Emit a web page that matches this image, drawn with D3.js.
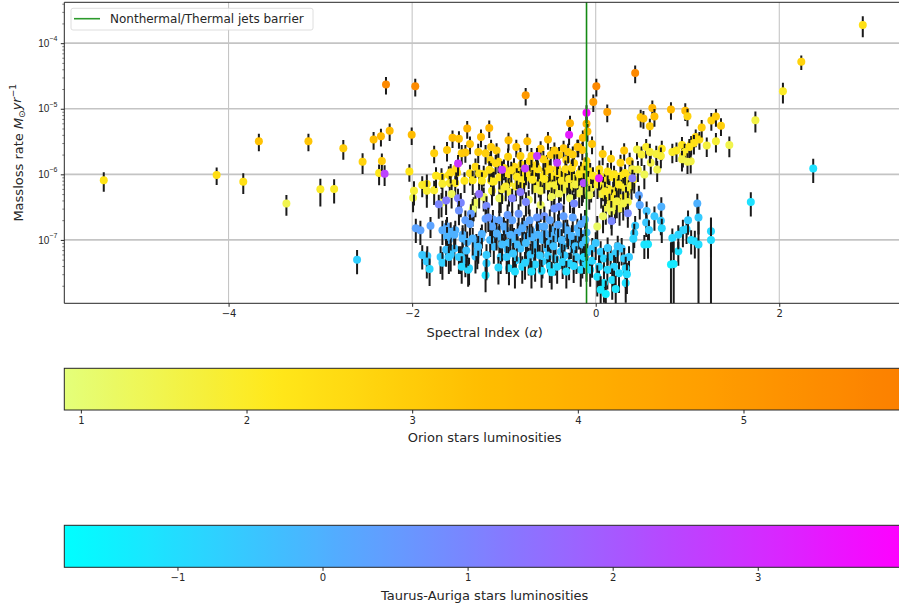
<!DOCTYPE html>
<html>
<head>
<meta charset="utf-8">
<script src="https://cdn.jsdelivr.net/npm/d3@7"></script>
<style>
  html, body { margin: 0; padding: 0; background: #fff; }
  svg { display: block; font-family: "DejaVu Sans", sans-serif; }
  .tick text { fill: #262626; }
  .tick line { stroke: #262626; }
</style>
</head>
<body>
<div id="chart"></div>
<script>
// [spectral index, mass-loss rate (Msun/yr), luminosity, relative error]
const orionStars= [
  [-5.36, 8.1e-7, 2.3, .33], [-4.13, 9.8e-7, 2.5, .3], [-3.84, 7.7e-7, 2.4, .35], [-3.67, 3.2e-6, 3.3, .3],
  [-3.37, 3.6e-7, 1.5, .35], [-3.13, 3.2e-6, 3.2, .3], [-3.00, 5.9e-7, 2.0, .45], [-2.85, 6.0e-7, 2.0, .4],
  [-2.75, 2.5e-6, 3.0, .33], [-2.54, 1.55e-6, 2.8, .35], [-2.42, 3.4e-6, 3.4, .3], [-2.36, 1.05e-6, 2.2, .35],
  [-2.34, 3.8e-6, 3.6, .3], [-2.33, 1.6e-6, 3.0, .3], [-2.285, 2.35e-5, 5.6, .3], [-2.245, 4.6e-6, 3.5, .3],
  [-2.005, 4.0e-6, 3.5, .3], [-1.966, 2.2e-5, 5.5, .3], [-2.03, 1.1e-6, 2.3, .3], [-1.99, 4.4e-7, 1.4, .4],
  [-1.98, 5.6e-7, 1.8, .4], [-1.89, 6.9e-7, 2.0, .35], [-1.84, 7.1e-7, 2.1, .4], [-1.84, 5.6e-7, 1.9, .45],
  [-1.76, 2.1e-6, 2.9, .3], [-1.76, 5.7e-7, 1.9, .4], [-1.74, 9.5e-7, 2.2, .35], [-1.68, 3.7e-7, 1.3, .4],
  [-1.68, 9.2e-7, 2.3, .35], [-1.62, 2.35e-6, 3.1, .33], [-1.67, 7.2e-7, 1.9, .4],
  [-1.56, 3.6e-6, 3.4, .3], [-1.49, 3.5e-6, 3.3, .3], [-1.40, 5.0e-6, 3.8, .3], [-1.37, 2.9e-6, 3.2, .3],
  [-1.25, 3.7e-6, 3.4, .3], [-1.16, 5.1e-6, 3.7, .3], [-1.46, 2.1e-6, 3.0, .33], [-1.28, 2.2e-6, 3.0, .33],
  [-1.42, 2.15e-6, 3.1, .3], [-1.14, 2.6e-6, 3.0, .3], [-1.15, 1.65e-6, 2.7, .33], [-1.60, 9.8e-7, 2.4, .35],
  [-1.59, 7.4e-7, 2.0, .4], [-1.53, 7.4e-7, 2.1, .4], [-1.58, 1.08e-6, 2.5, .33], [-1.51, 1.06e-6, 2.4, .35],
  [-1.52, 1.23e-6, 2.6, .33], [-1.43, 8.0e-7, 2.2, .35], [-1.37, 1.04e-6, 2.4, .35], [-1.34, 8.1e-7, 2.2, .4],
  [-1.31, 1.31e-6, 2.6, .33], [-1.27, 1.03e-6, 2.3, .35], [-1.22, 1.0e-6, 2.4, .35], [-1.24, 8.0e-7, 2.1, .35],
  [-1.14, 1.1e-6, 2.3, .35], [-1.14, 8.0e-7, 2.2, .4], [-1.13, 5.6e-7, 1.8, .4], [-1.57, 5.0e-7, 1.4, .4],
  [-1.33, 3.2e-7, 1.2, .4], [-1.31, 3.7e-7, 1.3, .4], [-1.34, 2.9e-7, 1.1, .45], [-1.22, 4.5e-7, 1.3, .4],
  [-1.05, 4.3e-7, 1.3, .4],
  [-0.745, 3.2e-6, 3.4, .3], [-0.865, 2.6e-6, 3.2, .3], [-0.60, 2.45e-6, 3.1, .3], [-0.35, 2.5e-6, 3.1, .3],
  [-0.20, 2.6e-6, 3.2, .3], [-0.28, 6.0e-6, 3.9, .3], [-0.14, 3.6e-6, 3.4, .3], [-0.10, 5.9e-6, 3.8, .3],
  [-0.09, 4.5e-6, 3.6, .3], [-0.04, 2.9e-6, 3.2, .3], [-0.763, 1.6e-5, 5.0, .3], [0.007, 2.2e-5, 5.6, .3],
  [-0.026, 1.27e-5, 4.8, .3], [0.126, 8.9e-6, 4.6, .3], [0.43, 3.5e-5, 5.6, .3],
  [-1.08, 2.3e-6, 3.0, .3], [-1.06, 1.56e-6, 2.7, .33], [-0.955, 1.86e-6, 2.8, .33], [-0.89, 1.3e-6, 2.6, .35],
  [-0.835, 1.1e-6, 2.4, .35], [-0.73, 9.2e-7, 2.3, .35], [-0.67, 1.03e-6, 2.4, .35], [-0.58, 9.2e-7, 2.2, .35],
  [-0.51, 8.2e-7, 2.1, .35], [-0.44, 7.7e-7, 2.0, .4], [-0.36, 9.2e-7, 2.2, .35], [-0.27, 1.03e-6, 2.3, .35],
  [-0.20, 8.2e-7, 2.0, .4], [-0.146, 9.2e-7, 2.2, .35], [-0.255, 6.5e-7, 1.8, .4], [-0.18, 5.1e-7, 1.5, .4],
  [-0.345, 5.8e-7, 1.6, .4], [-0.454, 5.4e-7, 1.7, .4], [-0.60, 3.4e-7, 1.3, .45], [-0.73, 4.1e-7, 1.3, .4],
  [-1.035, 4.3e-7, 1.3, .4], [-1.02, 5.9e-7, 1.8, .4], [-1.12, 7.7e-7, 2.0, .4], [-0.945, 7.3e-7, 2.0, .4],
  [-0.80, 6.9e-7, 1.9, .4], [-0.65, 1.38e-6, 2.6, .33], [-0.53, 1.48e-6, 2.7, .33], [-0.32, 1.66e-6, 2.8, .33],
  [-0.236, 1.48e-6, 2.7, .33], [-0.49, 1.97e-6, 2.9, .33], [-0.40, 1.97e-6, 2.9, .33], [-1.20, 2.1e-6, 2.9, .33],
  [-1.09, 1.48e-6, 2.6, .33], [-1.16, 1.17e-6, 2.4, .35], [-1.11, 7.8e-7, 2.1, .4], [-0.945, 5.4e-7, 1.7, .4],
  [-0.87, 6.5e-7, 1.9, .4], [-0.95, 1.0e-6, 2.3, .35], [-0.78, 8.5e-7, 2.1, .4], [-0.70, 1.2e-6, 2.5, .35],
  [-0.62, 7.4e-7, 1.9, .4], [-0.55, 1.1e-6, 2.4, .35], [-0.47, 9.5e-7, 2.2, .35], [-0.42, 1.25e-6, 2.5, .35],
  [-0.31, 7.2e-7, 1.8, .4], [-0.24, 8.8e-7, 2.0, .4], [-0.12, 7.0e-7, 1.8, .4], [-0.16, 1.15e-6, 2.4, .35],
  [-0.66, 6.0e-7, 1.6, .4], [-0.38, 6.4e-7, 1.6, .4], [-0.52, 6.6e-7, 1.7, .4], [-0.84, 8.0e-7, 2.0, .4],
  [-1.00, 1.25e-6, 2.5, .35], [-0.57, 1.7e-6, 2.7, .33], [-0.72, 1.6e-6, 2.7, .33], [-0.30, 2.2e-6, 3.0, .33],
  [-0.10, 1.6e-6, 2.7, .33],
  [-1.05, 9.0e-7, 2.2, .35], [-0.98, 6.5e-7, 1.9, .4], [-0.92, 1.15e-6, 2.4, .35], [-0.86, 9.2e-7, 2.2, .35],
  [-0.81, 1.4e-6, 2.6, .33], [-0.76, 1.05e-6, 2.3, .35], [-0.69, 8.3e-7, 2.1, .4], [-0.63, 1.2e-6, 2.4, .35],
  [-0.60, 5.6e-7, 1.6, .4], [-0.56, 8.5e-7, 2.1, .4], [-0.50, 1.2e-6, 2.5, .35], [-0.45, 6.8e-7, 1.8, .4],
  [-0.41, 1.05e-6, 2.3, .35], [-0.37, 8.0e-7, 2.0, .4], [-0.33, 1.2e-6, 2.4, .35], [-0.29, 8.5e-7, 2.0, .4],
  [-0.26, 1.25e-6, 2.5, .35], [-0.22, 7.0e-7, 1.7, .4], [-0.18, 1.0e-6, 2.2, .35], [-0.14, 6.2e-7, 1.6, .4],
  [-0.11, 1.35e-6, 2.5, .35], [-0.06, 1.1e-6, 2.3, .35], [-0.02, 7.5e-7, 1.8, .4], [-0.48, 4.5e-7, 1.4, .4],
  [-0.28, 4.3e-7, 1.3, .4], [-0.40, 5.0e-7, 1.5, .4], [-0.70, 1.9e-6, 2.9, .33], [-0.82, 1.9e-6, 2.9, .33],
  [-0.45, 2.3e-6, 3.0, .33], [-0.25, 2.0e-6, 2.9, .33], [-0.95, 3.3e-6, 3.4, .3], [-0.52, 3.4e-6, 3.4, .3],
  [-0.146, 2.35e-6, 3.1, .3], [-0.19, 2.6e-6, 3.2, .3], [-0.12, 1.0e-6, 2.2, .35], [-0.08, 8.0e-7, 2.0, .4],
  [-0.05, 6.2e-7, 1.6, .4], [-0.15, 5.5e-7, 1.5, .4], [-0.03, 9.5e-7, 2.1, .35], [-0.07, 4.8e-7, 1.4, .4],
  [0.076, 2.05e-6, 3.0, .33], [0.167, 1.73e-6, 2.8, .33], [0.31, 2.3e-6, 3.1, .3], [0.27, 1.5e-6, 2.7, .33],
  [0.37, 1.6e-6, 2.8, .33], [0.45, 2.4e-6, 1.6, .3], [0.50, 2.0e-6, 1.8, .33],
  [0.05, 9.5e-7, 2.2, .35], [0.10, 8.0e-7, 2.1, .4], [0.15, 9.0e-7, 2.2, .35], [0.22, 8.5e-7, 2.1, .35],
  [0.28, 9.5e-7, 2.2, .35], [0.33, 8.0e-7, 2.0, .4], [0.38, 9.0e-7, 2.1, .35], [0.08, 6.5e-7, 1.9, .4],
  [0.14, 6.0e-7, 2.0, .4], [0.19, 5.5e-7, 2.1, .4], [0.24, 6.0e-7, 2.0, .4], [0.30, 6.3e-7, 1.9, .4],
  [0.36, 5.8e-7, 1.8, .4], [0.12, 4.6e-7, 1.9, .4], [0.18, 4.2e-7, 2.0, .4], [0.22, 4.8e-7, 2.1, .4],
  [0.27, 4.3e-7, 1.9, .4], [0.33, 4.6e-7, 1.8, .4], [0.06, 5.0e-7, 1.7, .4], [0.15, 3.5e-7, 1.8, .45],
  [0.21, 3.3e-7, 1.7, .45], [0.26, 3.0e-7, 1.6, .45], [0.11, 3.1e-7, 1.5, .45], [0.30, 3.6e-7, 1.6, .45],
  [0.17, 2.7e-7, 1.4, .45], [0.08, 2.3e-7, 1.3, .45], [0.017, 1.6e-7, 1.2, .45], [0.39, 6.8e-7, 1.8, .4],
  [0.42, 8.5e-7, 1.9, .4], [0.10, 5.5e-7, 2.0, .4], [0.25, 7.0e-7, 2.1, .4], [0.20, 1.0e-6, 2.2, .35],
  [0.13, 1.1e-6, 2.3, .35], [0.32, 1.05e-6, 2.3, .35], [0.02, 7.0e-7, 1.9, .4], [0.04, 1.2e-6, 2.4, .35],
  [0.35, 3.8e-7, 1.6, .45], [0.23, 3.9e-7, 1.7, .45],
  [0.67, 1.18e-6, 1.5, .35], [0.53, 9.9e-7, 1.4, .4], [0.46, 1.18e-6, 1.6, .35], [0.40, 1.2e-6, 1.7, .35],
  [0.60, 1.5e-6, 1.6, .33], [0.55, 2.6e-6, 2.0, .33], [0.59, 2.2e-6, 1.8, .33], [0.66, 2.05e-6, 1.7, .33],
  [0.72, 2.45e-6, 2.2, .33], [0.835, 2.2e-6, 2.0, .33], [0.94, 2.8e-6, 2.3, .33], [0.95, 1.9e-6, 2.0, .33],
  [1.035, 1.58e-6, 1.6, .35], [1.04, 2.9e-6, 2.6, .33], [1.09, 3.7e-6, 2.7, .3], [1.07, 3.0e-6, 2.4, .33],
  [1.13, 3.4e-6, 2.5, .3], [0.97, 2.2e-6, 2.0, .33], [1.02, 2.6e-6, 2.3, .33], [0.88, 2.3e-6, 2.1, .33],
  [0.71, 1.9e-6, 1.8, .35], [0.94, 1.7e-6, 1.6, .35], [1.00, 1.55e-6, 1.5, .35], [1.21, 2.75e-6, 1.7, .33],
  [0.49, 7.4e-6, 3.0, .3], [0.52, 7.1e-6, 3.3, .3], [0.59, 5.4e-6, 3.0, .3], [0.617, 1.03e-5, 3.8, .3],
  [0.64, 7.6e-6, 3.4, .3], [0.82, 9.7e-6, 3.6, .3], [0.976, 9.3e-6, 3.5, .3], [1.0, 7.7e-6, 2.8, .3],
  [1.155, 5.2e-6, 2.9, .3], [1.31, 3.2e-6, 1.8, .33], [1.26, 6.6e-6, 2.8, .3], [1.31, 7.6e-6, 3.0, .3],
  [1.365, 5.5e-6, 2.9, .3], [1.456, 2.8e-6, 1.5, .35], [1.74, 6.7e-6, 1.6, .35], [2.04, 1.85e-5, 2.0, .35],
  [2.24, 5.2e-5, 2.8, .25], [2.91, 1.9e-4, 2.4, .35],
];

const taurusStars= [
  [-2.30, 1.02e-6, 2.5, .35], [-2.60, 5.0e-8, -0.7, .4], [-1.96, 1.5e-7, 0.3, .4], [-1.91, 1.4e-7, 0.3, .4],
  [-1.89, 5.9e-8, -0.5, .4], [-1.835, 5.7e-8, -0.5, .4], [-1.84, 4.7e-8, -0.6, .45], [-1.81, 3.6e-8, -0.9, .45],
  [-1.80, 1.65e-7, 0.3, .35], [-1.71, 3.5e-7, 1.0, .4], [-1.63, 4.0e-7, 1.2, .4], [-0.10, 8.7e-6, 3.9, .3],
  [-0.29, 4.0e-6, 3.4, .3], [2.37, 1.23e-6, -1.1, .4], [1.69, 3.8e-7, -1.1, .4],
  [-1.50, 1.46e-6, 2.8, .35], [-1.50, 4.3e-7, 1.1, .4], [-1.47, 3.7e-7, 1.0, .4], [-1.49, 2.8e-7, 0.7, .4],
  [-1.27, 5.0e-7, 1.5, .4], [-1.19, 3.3e-7, 0.9, .4], [-1.36, 2.5e-7, 0.5, .4], [-1.42, 2.0e-7, 0.4, .4],
  [-1.37, 1.75e-7, 0.3, .4], [-1.02, 1.17e-6, 2.6, .35], [-0.77, 1.23e-6, 2.6, .35], [-0.64, 1.9e-6, 2.7, .33],
  [-0.42, 1.5e-6, 2.6, .35], [-0.13, 7.4e-7, 2.3, .4], [0.036, 8.7e-7, 3.3, .35], [-0.76, 3.8e-7, 1.0, .4],
  [-0.91, 4.3e-7, 1.1, .4], [-0.82, 5.4e-7, 1.3, .4], [-0.40, 3.2e-7, 0.8, .4], [-0.45, 3.0e-7, 0.7, .4],
  [-0.236, 3.6e-7, 0.9, .4], [-0.56, 2.3e-7, 0.7, .4], [-0.84, 2.5e-7, 0.6, .4], [0.40, 8.7e-7, 1.2, .35],
  [-1.67, 1.4e-7, 0.1, .4], [-1.60, 1.0e-7, -0.1, .45], [-1.53, 1.4e-7, 0.0, .4], [-1.54, 7.4e-8, -0.4, .45],
  [-1.49, 5.5e-8, -0.6, .45], [-1.42, 4.9e-8, -0.6, .45], [-1.38, 3.7e-8, -0.8, .45], [-1.31, 5.6e-8, -0.5, .45],
  [-1.20, 2.9e-8, -1.1, .45], [-1.19, 4.4e-8, -0.7, .45], [-1.25, 1.05e-7, -0.1, .45], [-1.20, 2.1e-7, 0.4, .4],
  [-1.09, 1.4e-7, 0.2, .4], [-1.05, 2.0e-7, 0.3, .4], [-0.98, 1.4e-7, 0.1, .4], [-0.91, 2.0e-7, 0.3, .4],
  [-1.12, 2.04e-7, 0.3, .4], [-1.0, 1.6e-7, 0.1, .4], [-0.78, 1.7e-7, 0.2, .4], [-0.62, 1.6e-7, 0.1, .4],
  [-0.47, 1.41e-7, 0.0, .4], [-0.33, 1.6e-7, 0.1, .4], [-0.20, 1.5e-7, 0.0, .4], [-0.117, 2.04e-7, 0.2, .4],
  [-1.05, 1.12e-7, -0.1, .45], [-0.89, 1.05e-7, -0.2, .45], [-0.745, 1.12e-7, -0.1, .45], [-0.58, 1.0e-7, -0.2, .45],
  [-0.44, 1.05e-7, -0.2, .45], [-0.27, 9.3e-8, -0.3, .45], [-0.163, 1.05e-7, -0.2, .45], [-1.11, 7.9e-8, -0.3, .45],
  [-0.96, 7.1e-8, -0.4, .45], [-0.82, 7.4e-8, -0.4, .45], [-0.67, 6.6e-8, -0.5, .45], [-0.53, 7.4e-8, -0.4, .45],
  [-0.38, 6.6e-8, -0.5, .45], [-0.24, 7.1e-8, -0.4, .45], [-1.035, 5.5e-8, -0.6, .45], [-0.87, 4.9e-8, -0.7, .45],
  [-0.73, 5.2e-8, -0.6, .45], [-0.58, 4.7e-8, -0.7, .45], [-0.44, 5.2e-8, -0.6, .45], [-0.29, 4.4e-8, -0.8, .45],
  [-0.146, 4.7e-8, -0.7, .45], [-0.945, 3.7e-8, -0.9, .45], [-0.80, 3.9e-8, -0.9, .45], [-0.59, 3.4e-8, -1.0, .45],
  [-0.42, 3.9e-8, -0.9, .45], [-0.163, 3.5e-8, -1.0, .45],
  [-1.15, 1.0e-7, -0.2, .45], [-0.70, 1.35e-7, 0.0, .4], [-0.55, 1.25e-7, 0.0, .4], [-0.40, 1.3e-7, 0.0, .4],
  [-0.85, 1.3e-7, 0.1, .4], [-0.30, 1.2e-7, -0.1, .4], [-1.45, 1.2e-7, 0.0, .4], [-1.30, 8.5e-8, -0.3, .45],
  [-1.58, 6.0e-8, -0.5, .45], [-0.66, 8.5e-8, -0.3, .45], [-0.50, 9.0e-8, -0.3, .45], [-0.35, 8.0e-8, -0.4, .45],
  [-0.95, 9.0e-8, -0.3, .45], [-0.10, 1.3e-7, -0.1, .4], [-1.29, 6.5e-8, -0.4, .45], [-0.64, 2.2e-7, 0.5, .4],
  [-0.25, 2.2e-7, 0.3, .4], [-1.62, 1.6e-7, 0.2, .4],
  [-1.08, 1.25e-7, 0.0, .45], [-1.02, 8.5e-8, -0.3, .45], [-0.93, 1.2e-7, 0.0, .45], [-0.86, 8.5e-8, -0.3, .45],
  [-0.80, 1.5e-7, 0.1, .45], [-0.76, 9.0e-8, -0.3, .45], [-0.71, 6.0e-8, -0.5, .45], [-0.69, 1.1e-7, -0.1, .45],
  [-0.63, 1.2e-7, -0.1, .45], [-0.61, 5.8e-8, -0.6, .45], [-0.56, 1.6e-7, 0.1, .45], [-0.52, 5.8e-8, -0.6, .45],
  [-0.49, 1.15e-7, -0.1, .45], [-0.46, 8.0e-8, -0.4, .45], [-0.41, 1.7e-7, 0.2, .45], [-0.37, 1.0e-7, -0.2, .45],
  [-0.34, 5.8e-8, -0.6, .45], [-0.31, 1.4e-7, 0.0, .45], [-0.26, 1.15e-7, -0.1, .45], [-0.22, 8.0e-8, -0.4, .45],
  [-0.21, 5.5e-8, -0.6, .45], [-0.18, 1.3e-7, -0.1, .45], [-0.14, 8.5e-8, -0.4, .45], [-0.09, 6.5e-8, -0.5, .45],
  [-0.97, 5.5e-8, -0.6, .45], [-0.90, 6.2e-8, -0.5, .45], [-0.77, 4.5e-8, -0.8, .45], [-0.66, 4.2e-8, -0.8, .45],
  [-0.50, 4.0e-8, -0.9, .45], [-0.36, 4.6e-8, -0.8, .45], [-0.24, 4.0e-8, -0.9, .45], [-0.70, 3.3e-8, -1.1, .45],
  [-0.48, 3.2e-8, -1.1, .45], [-0.32, 3.3e-8, -1.1, .45], [-1.06, 3.8e-8, -0.9, .45], [-0.88, 3.3e-8, -1.0, .45],
  [-1.13, 1.6e-7, 0.2, .45], [-0.72, 2.0e-7, 0.3, .45], [-0.50, 2.0e-7, 0.3, .45], [-0.35, 2.3e-7, 0.4, .45],
  [-0.16, 1.75e-7, 0.1, .45], [-0.96, 2.4e-7, 0.5, .45],
  [-1.63, 1.45e-7, 0.1, .4], [-1.58, 1.33e-7, 0.0, .4], [-1.54, 1.2e-7, 0.0, .4], [-1.62, 1.12e-7, -0.1, .4],
  [-1.45, 1.05e-7, -0.1, .45], [-1.40, 9.3e-8, -0.2, .45], [-1.34, 1.05e-7, -0.1, .45], [-1.24, 1.23e-7, 0.0, .4],
  [-1.17, 2.2e-7, 0.6, .4], [-1.69, 5.5e-8, -0.6, .45], [-1.67, 4.5e-8, -0.7, .45], [-1.63, 7.1e-8, -0.4, .45],
  [-1.60, 5.5e-8, -0.6, .45], [-1.47, 5.5e-8, -0.6, .45], [-1.46, 3.9e-8, -0.9, .45], [-1.39, 3.5e-8, -0.9, .45],
  [-1.41, 6.9e-8, -0.4, .45], [-1.28, 7.9e-8, -0.3, .45], [-1.19, 5.9e-8, -0.6, .45],
  [0.47, 4.8e-7, 0.3, .4], [0.48, 3.4e-7, 0.2, .4], [0.35, 2.55e-7, 0.9, .4], [0.174, 1.95e-7, 1.0, .4],
  [0.555, 2.75e-7, -0.4, .4], [0.64, 2.3e-7, -0.5, .4], [0.715, 3.2e-7, 0.0, .4], [0.71, 1.96e-7, -0.6, .4],
  [0.72, 1.5e-7, -0.9, .4], [0.55, 1.85e-7, -0.5, .4], [0.58, 1.42e-7, -0.7, .4], [0.43, 1.65e-7, -0.6, .4],
  [0.42, 1.26e-7, -0.7, .4], [0.41, 1.04e-7, -0.8, .4], [0.53, 8.5e-8, -1.2, .4], [0.57, 8.6e-8, -1.2, .4],
  [0.835, 1.07e-7, -0.9, .4], [0.90, 6.7e-8, -1.1, .4], [0.82, 4.2e-8, -1.4, 1.2], [0.85, 4.3e-8, -1.3, 1.2],
  [0.95, 1.4e-7, -0.8, .45], [0.99, 1.45e-7, -0.8, .4], [1.006, 2.0e-7, -0.6, .4], [1.107, 3.6e-7, 0.0, .4],
  [1.12, 2.2e-7, -0.6, .45], [1.04, 1.0e-7, -1.0, .4], [1.08, 9.5e-8, -1.0, .45], [1.12, 8.5e-8, -1.0, 1.2],
  [1.256, 1.35e-7, -0.9, .6], [1.256, 1.0e-7, -1.0, 1.2], [0.90, 1.2e-7, -0.8, .4],
  [-0.037, 7.4e-8, -0.6, .45], [0.054, 6.6e-8, -0.6, .45], [0.09, 5.2e-8, -0.8, .45], [0.163, 5.5e-8, -0.7, .45],
  [0.218, 6.3e-8, -0.6, .45], [0.283, 7.4e-8, -0.5, .45], [0.31, 5.2e-8, -0.7, .45], [0.363, 5.5e-8, -0.6, .45],
  [0.036, 3.9e-8, -0.9, .5], [0.127, 3.5e-8, -0.9, .5], [0.20, 3.9e-8, -0.8, .5], [0.254, 3.1e-8, -1.0, .5],
  [0.327, 3.7e-8, -0.9, .5], [0.017, 2.75e-8, -1.1, .5], [0.09, 2.2e-8, -1.2, .5], [0.18, 2.45e-8, -1.1, .5],
  [0.327, 2.2e-8, -1.1, .5], [0.054, 1.74e-8, -1.3, .6], [0.218, 1.78e-8, -1.2, .6], [0.11, 1.5e-8, -1.4, .6],
  [0.34, 3.0e-8, -1.0, .5], [-0.128, 5.5e-8, -1.0, .45], [-0.10, 4.2e-8, -1.0, .45], [-0.06, 3.5e-8, -1.1, .45],
  [-0.04, 4.8e-8, -0.9, .45], [-0.11, 1.0e-7, -0.4, .45], [0.0, 9.0e-8, -0.5, .45], [0.24, 8.0e-8, -0.5, .45],
  [0.13, 7.5e-8, -0.6, .45],
];

const barrierAlpha= -0.1;
const xDomain= [-5.79, 3.37];
const yDomain= [1.08e-8, 4.2e-4];
const xTicks= [-4, -2, 0, 2];
const yTicks= [1e-4, 1e-5, 1e-6, 1e-7];
const orionLumRange= [0.9, 5.975];
const taurusLumRange= [-1.78, 4.015];
const orionTicks= [1, 2, 3, 4, 5];
const taurusTicks= [-1, 0, 1, 2, 3];
const wistiaColors= ['#e4ff7a', '#ffe81a', '#ffbd00', '#ffa000', '#fc7f00'];

const W= 899, H= 606;
const PLOT= { left: 64.3, right: 905, top: 2.3, bottom: 303.3 };
const CB1= { top: 368.3, bottom: 410 };
const CB2= { top: 525.3, bottom: 567.3 };
const INK= '#262626';
const TICK_FS= 10;

const wistia= d3.scaleLinear().domain([0, .25, .5, .75, 1]).range(wistiaColors).interpolate(d3.interpolateRgb);
const cool= t => d3.rgb(255*t, 255*(1-t), 255).toString();
const orionNorm= d3.scaleLinear().domain(orionLumRange).range([0, 1]).clamp(true);
const taurusNorm= d3.scaleLinear().domain(taurusLumRange).range([0, 1]).clamp(true);

const svg= d3.select('#chart').append('svg')
  .attr('width', W).attr('height', H)
  .attr('viewBox', `0 0 ${W} ${H}`);

const xSc= d3.scaleLinear().domain(xDomain).range([PLOT.left, PLOT.right]);
const ySc= d3.scaleLog().domain(yDomain).range([PLOT.bottom, PLOT.top]);

svg.append('defs').append('clipPath').attr('id', 'plotClip')
  .append('rect')
    .attr('x', PLOT.left).attr('y', PLOT.top)
    .attr('width', PLOT.right-PLOT.left).attr('height', PLOT.bottom-PLOT.top);

// grid
const grid= svg.append('g');
grid.selectAll(null).data(xTicks).join('line')
  .attr('x1', d => xSc(d)).attr('x2', d => xSc(d))
  .attr('y1', PLOT.top).attr('y2', PLOT.bottom)
  .attr('stroke', '#b0b0b0').attr('stroke-width', 0.8);
grid.selectAll(null).data(yTicks).join('line')
  .attr('x1', PLOT.left).attr('x2', PLOT.right)
  .attr('y1', d => ySc(d)).attr('y2', d => ySc(d))
  .attr('stroke', '#c4c4c4').attr('stroke-width', 1.6);

// points with error bars, one star at a time
const marks= svg.append('g').attr('clip-path', 'url(#plotClip)');
const _drawStar= (s, color) => {
  const [a, m, , e]= s;
  const lo= m*(1-e);
  const yLo= lo > 0 ? ySc(lo) : PLOT.bottom+5;
  marks.append('line')
    .attr('x1', xSc(a)).attr('x2', xSc(a))
    .attr('y1', ySc(m*(1+e))).attr('y2', yLo)
    .attr('stroke', '#1a1a1a').attr('stroke-width', 2);
  marks.append('circle')
    .attr('cx', xSc(a)).attr('cy', ySc(m))
    .attr('r', 4)
    .attr('fill', color);
};
orionStars.forEach(s => _drawStar(s, wistia(orionNorm(s[2]))));
taurusStars.forEach(s => _drawStar(s, cool(taurusNorm(s[2]))));

// barrier line
svg.append('line')
  .attr('x1', xSc(barrierAlpha)).attr('x2', xSc(barrierAlpha))
  .attr('y1', PLOT.top).attr('y2', PLOT.bottom)
  .attr('stroke', '#138a13').attr('stroke-width', 1.6);

// axes
const _fmt= d => d3.format('d')(d).replace('-', '\u2212');
const xAxis= svg.append('g')
  .attr('transform', `translate(0,${PLOT.bottom})`)
  .call(d3.axisBottom(xSc).tickValues(xTicks).tickSize(3.5).tickPadding(3.5).tickFormat(_fmt));
xAxis.select('.domain').remove();
xAxis.selectAll('text').attr('font-size', TICK_FS).attr('font-family', 'DejaVu Sans');

const minorTicks= [];
for (let p= -8; p <= -4; p++) for (let k= 2; k <= 9; k++) {
  const v= k*Math.pow(10, p);
  if (v > yDomain[0] && v < yDomain[1]) minorTicks.push(v);
}
const yMinor= svg.append('g')
  .attr('transform', `translate(${PLOT.left},0)`)
  .call(d3.axisLeft(ySc).tickValues(minorTicks).tickSize(2).tickFormat(''));
yMinor.select('.domain').remove();
yMinor.selectAll('line').attr('stroke-width', 0.6);

const yAxis= svg.append('g')
  .attr('transform', `translate(${PLOT.left},0)`)
  .call(d3.axisLeft(ySc).tickValues(yTicks).tickSize(3.5).tickPadding(3.5).tickFormat(''));
yAxis.select('.domain').remove();
yAxis.selectAll('.tick').each(function(d) {
  const t= d3.select(this).append('text')
    .attr('x', -7).attr('dy', '0.32em')
    .attr('text-anchor', 'end')
    .attr('font-size', TICK_FS)
    .attr('fill', INK);
  t.append('tspan').text('10');
  t.append('tspan').attr('font-size', 7).attr('dy', '-0.8em')
    .text('\u2212' + Math.abs(Math.round(Math.log10(d))));
});

// frame (right side falls outside the picture)
svg.append('path')
  .attr('d', `M${PLOT.right},${PLOT.top}H${PLOT.left}V${PLOT.bottom}H${PLOT.right}`)
  .attr('fill', 'none').attr('stroke', INK).attr('stroke-width', 1);

// axis labels
svg.append('text')
  .attr('x', (PLOT.left+PLOT.right)/2).attr('y', 337)
  .attr('text-anchor', 'middle').attr('font-size', 13).attr('fill', INK)
  .call(t => {
    t.append('tspan').text('Spectral Index (');
    t.append('tspan').attr('font-style', 'italic').text('\u03b1');
    t.append('tspan').text(')');
  });

svg.append('text')
  .attr('transform', `translate(22.5,${(PLOT.top+PLOT.bottom)/2}) rotate(-90)`)
  .attr('text-anchor', 'middle').attr('font-size', 13).attr('fill', INK)
  .call(t => {
    t.append('tspan').text('Massloss rate ');
    t.append('tspan').attr('font-style', 'italic').text('M');
    t.append('tspan').attr('font-size', 9).attr('dy', '0.3em').text('\u2299');
    t.append('tspan').attr('font-style', 'italic').attr('dy', '-0.3em').text('yr');
    t.append('tspan').attr('font-size', 9).attr('dy', '-0.55em').text('\u22121');
  });

// legend
const lg= svg.append('g');
lg.append('rect')
  .attr('x', 71).attr('y', 8.3).attr('width', 242).attr('height', 21.7)
  .attr('rx', 2).attr('fill', '#fff').attr('fill-opacity', 0.85)
  .attr('stroke', '#d6d6d6').attr('stroke-width', 0.8);
lg.append('line')
  .attr('x1', 74).attr('x2', 100).attr('y1', 18.7).attr('y2', 18.7)
  .attr('stroke', '#2c9a2c').attr('stroke-width', 1.6);
lg.append('text')
  .attr('x', 110).attr('y', 23)
  .attr('font-size', 12).attr('fill', INK)
  .text('Nonthermal/Thermal jets barrier');

// colorbars
function _colorbar({ id, box, range, ticks, cmap, label, labelY }) {
  const sc= d3.scaleLinear().domain(range).range([PLOT.left, PLOT.right]);
  const grad= svg.select('defs').append('linearGradient').attr('id', id)
    .attr('x1', '0%').attr('x2', '100%').attr('y1', '0%').attr('y2', '0%');
  d3.range(0, 1.0001, 0.02).forEach(t => {
    grad.append('stop').attr('offset', `${t*100}%`).attr('stop-color', cmap(t));
  });
  svg.append('rect')
    .attr('x', PLOT.left).attr('y', box.top)
    .attr('width', PLOT.right-PLOT.left).attr('height', box.bottom-box.top)
    .attr('fill', `url(#${id})`)
    .attr('stroke', INK).attr('stroke-width', 1);
  const ax= svg.append('g')
    .attr('transform', `translate(0,${box.bottom})`)
    .call(d3.axisBottom(sc).tickValues(ticks).tickSize(3.5).tickPadding(3.5).tickFormat(_fmt));
  ax.select('.domain').remove();
  ax.selectAll('text').attr('font-size', TICK_FS).attr('font-family', 'DejaVu Sans');
  svg.append('text')
    .attr('x', (PLOT.left+PLOT.right)/2).attr('y', labelY)
    .attr('text-anchor', 'middle').attr('font-size', 13).attr('fill', INK)
    .text(label);
}

_colorbar({ id: 'cbOrion', box: CB1, range: orionLumRange, ticks: orionTicks,
  cmap: wistia, label: 'Orion stars luminosities', labelY: 442 });
_colorbar({ id: 'cbTaurus', box: CB2, range: taurusLumRange, ticks: taurusTicks,
  cmap: cool, label: 'Taurus-Auriga stars luminosities', labelY: 599.5 });
</script>
</body>
</html>
